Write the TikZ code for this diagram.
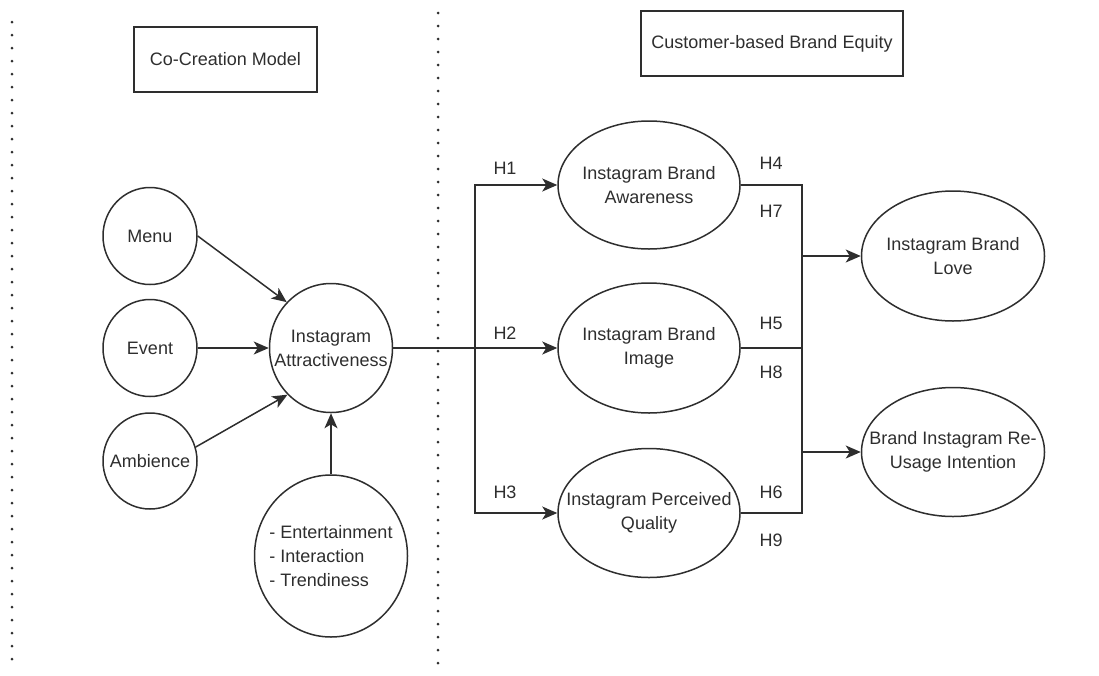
\documentclass[tikz,border=0pt]{standalone}
\usepackage{fontspec}
\setmainfont{Liberation Sans}
\usetikzlibrary{shapes.geometric,arrows.meta}
\definecolor{ink}{rgb}{0.18,0.18,0.18}
\begin{document}
\begin{tikzpicture}[x=1pt,y=-1pt,
  every node/.style={text=ink,font=\fontsize{18}{24}\selectfont},
  ell/.style={ellipse,draw=ink,line width=1.5pt,inner sep=0pt},
  lbl/.style={align=center,inner sep=0pt},
  titlebox/.style={rectangle,draw=ink,line width=1.5pt,inner sep=0pt,align=center},
  conn/.style={draw=ink,line width=1.5pt},
  arr/.style={conn,-{Stealth[length=15pt,width=13pt,inset=4pt]}},
  sep/.style={draw=ink,line width=3pt,line cap=round,dash pattern=on 0pt off 13pt},
  hlab/.style={inner sep=0pt}]
\useasboundingbox (0,0) rectangle (1099,675);

% separators
\coordinate (s1a) at (12,22);
\coordinate (s1b) at (12,672);
\coordinate (s2a) at (438,13);
\coordinate (s2b) at (438,672);
\draw[sep] (s1a) -- (s1b);
\draw[sep] (s2a) -- (s2b);

% title boxes
\node[titlebox,minimum width=183pt,minimum height=65pt] (cc) at (225.5,59.5) {Co-Creation Model};
\node[titlebox,minimum width=262pt,minimum height=65pt] (cbbe) at (772,43.5) {Customer-based Brand Equity};

% left nodes
\node[ell,minimum width=94pt,minimum height=97pt,label={[lbl]center:Menu}] (menu) at (150,236) {};
\node[ell,minimum width=94pt,minimum height=97pt,label={[lbl]center:Event}] (event) at (150,348) {};
\node[ell,minimum width=94pt,minimum height=96pt,label={[lbl]center:Ambience}] (amb) at (150,461) {};
\node[ell,minimum width=123pt,minimum height=129pt,label={[lbl]center:{Instagram\\Attractiveness}}] (attr) at (331,348) {};
\node[ell,minimum width=153pt,minimum height=162pt,label={[lbl,align=left]center:{- Entertainment\\- Interaction\\- Trendiness}}] (ent) at (331,556) {};

% middle nodes
\node[ell,minimum width=182pt,minimum height=128pt,label={[lbl]center:{Instagram Brand\\Awareness}}] (aware) at (649,185) {};
\node[ell,minimum width=182pt,minimum height=130pt,label={[lbl]center:{Instagram Brand\\Image}}] (image) at (649,348) {};
\node[ell,minimum width=182pt,minimum height=129pt,label={[lbl]center:{Instagram Perceived\\Quality}}] (qual) at (649,513) {};

% right nodes
\node[ell,minimum width=183pt,minimum height=130pt,label={[lbl]center:{Instagram Brand\\Love}}] (love) at (953,256) {};
\node[ell,minimum width=183pt,minimum height=129pt,label={[lbl]center:{Brand Instagram Re-\\Usage Intention}}] (reuse) at (953,452) {};

% left connectors
\draw[arr] (menu.east) -- (attr.134);
\draw[arr] (event.east) -- (attr.west);
\draw[arr] (amb.17) -- (attr.227);
\draw[arr] (ent.north) -- (attr.south);

% to CBBE
\coordinate (jl) at (475,348);
\draw[arr] (attr.east) -- (image.west);
\draw[arr] (jl) |- (aware.west);
\draw[arr] (jl) |- (qual.west);

% right connectors
\coordinate (r1) at (802,185);
\coordinate (r2) at (802,348);
\coordinate (r3) at (802,513);
\coordinate (rl) at (802,256);
\coordinate (rr) at (802,452);
\draw[conn] (aware.east) -- (r1) -- (r3) -- (qual.east);
\draw[conn] (image.east) -- (r2);
\draw[arr] (rl) -- (love.west);
\draw[arr] (rr) -- (reuse.west);

% labels
\node[hlab] (h1) at (505,168) {H1};
\node[hlab] (h2) at (505,333) {H2};
\node[hlab] (h3) at (505,492) {H3};
\node[hlab] (h4) at (771,163) {H4};
\node[hlab] (h7) at (771,211) {H7};
\node[hlab] (h5) at (771,323) {H5};
\node[hlab] (h8) at (771,372) {H8};
\node[hlab] (h6) at (771,492) {H6};
\node[hlab] (h9) at (771,540) {H9};
\end{tikzpicture}
\end{document}
